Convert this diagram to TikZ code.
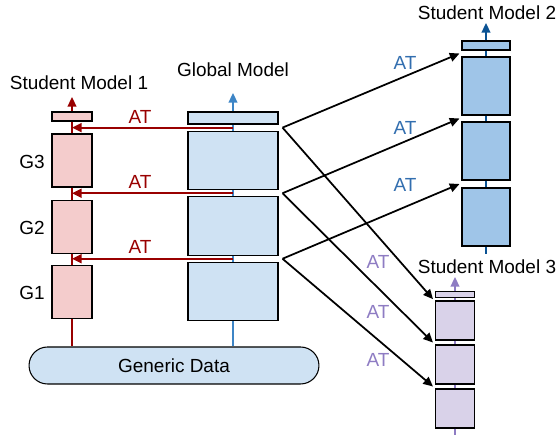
\documentclass[tikz,border=0pt]{standalone}
\usepackage{fontspec}
\setmainfont{Liberation Sans}
\usetikzlibrary{arrows.meta,calc}
\definecolor{sonefill}{RGB}{244,204,204}
\definecolor{sonered}{RGB}{153,0,0}
\definecolor{glbfill}{RGB}{207,226,243}
\definecolor{glbline}{RGB}{61,133,198}
\definecolor{stwofill}{RGB}{159,197,232}
\definecolor{stwoline}{RGB}{11,83,148}
\definecolor{stwotext}{RGB}{50,110,175}
\definecolor{sthreefill}{RGB}{217,210,233}
\definecolor{sthreeline}{RGB}{142,124,195}

\begin{document}
\begin{tikzpicture}[x=0.02cm,y=-0.02cm,
  font=\fontsize{10.8}{13}\selectfont,
  blk/.style={rectangle,draw=black,line width=0.6pt,inner sep=0pt},
  sonebox/.style={blk,fill=sonefill,minimum width=0.8cm,minimum height=1.06cm},
  sonehead/.style={blk,fill=sonefill,minimum width=0.8cm,minimum height=0.18cm},
  glbbox/.style={blk,fill=glbfill,minimum width=1.8cm,minimum height=1.17cm},
  glbhead/.style={blk,fill=glbfill,minimum width=1.8cm,minimum height=0.24cm},
  stwobox/.style={blk,fill=stwofill,minimum width=0.96cm,minimum height=1.16cm},
  stwohead/.style={blk,fill=stwofill,minimum width=0.96cm,minimum height=0.18cm},
  sthreebox/.style={blk,fill=sthreefill,minimum width=0.78cm,minimum height=0.78cm},
  sthreehead/.style={blk,fill=sthreefill,minimum width=0.78cm,minimum height=0.11cm},
  spine/.style={line width=1pt},
  tip/.style={-{Triangle[length=5.5pt,width=5pt]}},
  redat/.style={tip,line width=1.2pt,sonered},
  blackat/.style={tip,line width=1pt,black},
  atlabel/.style={inner sep=0pt}
]
\useasboundingbox (0,0) rectangle (559,435);

\node[blk,fill=glbfill,rounded corners=0.37cm,minimum width=5.8cm,minimum height=0.74cm] (data) at (174,365.5) {Generic Data};

\node[sonehead] (s1h) at (72,116.5) {};
\node[sonebox] (s1g3) at (72,160.5) {};
\node[sonebox] (s1g2) at (72,227) {};
\node[sonebox] (s1g1) at (72,292) {};
\node (s1title) at (79,83) {Student Model 1};
\node (g3lbl) at (32,162) {G3};
\node (g2lbl) at (32,228) {G2};
\node (g1lbl) at (32,293) {G1};
\coordinate (s1top) at (72,97);

\node[glbhead] (gh) at (233,118) {};
\node[glbbox] (gb3) at (233,160.5) {};
\node[glbbox] (gb2) at (233,226) {};
\node[glbbox] (gb1) at (233,291.5) {};
\node (gtitle) at (233,70) {Global Model};
\coordinate (gtop) at (233,93);

\node[stwohead] (s2h) at (486,45.5) {};
\node[stwobox] (s2b3) at (486,86) {};
\node[stwobox] (s2b2) at (486,151) {};
\node[stwobox] (s2b1) at (486,217) {};
\node (s2title) at (487,13) {Student Model 2};
\coordinate (s2top) at (486,23);
\coordinate (s2end) at (486,254);

\node[sthreehead] (s3h) at (455,294.5) {};
\node[sthreebox] (s3b3) at (455,320.5) {};
\node[sthreebox] (s3b2) at (455,364.5) {};
\node[sthreebox] (s3b1) at (455,408.5) {};
\node (s3title) at (487,267) {Student Model 3};
\coordinate (s3top) at (455,277);
\coordinate (s3end) at (455,435);

% spines
\draw[spine,sonered,tip] (s1h) -- (s1top);
\draw[spine,sonered] (s1h) -- (s1g3) (s1g3) -- (s1g2) (s1g2) -- (s1g1);
\draw[spine,sonered] (s1g1.south) -- (s1g1.south |- data.north);
\draw[spine,glbline,tip] (gh) -- (gtop);
\draw[spine,glbline] (gh) -- (gb3) (gb3) -- (gb2) (gb2) -- (gb1);
\draw[spine,glbline] (gb1.south) -- (gb1.south |- data.north);
\draw[spine,stwoline,tip] (s2h) -- (s2top);
\draw[spine,stwoline] (s2h) -- (s2b3) (s2b3) -- (s2b2) (s2b2) -- (s2b1) (s2b1) -- (s2end);
\draw[spine,sthreeline,tip] (s3h) -- (s3top);
\draw[spine,sthreeline] (s3h) -- (s3b3) (s3b3) -- (s3b2) (s3b2) -- (s3b1) (s3b1) -- (s3end);

% gaps
\coordinate (ga3) at ($(gh.south)!0.5!(gb3.north)$);
\coordinate (ga2) at ($(gb3.south)!0.5!(gb2.north)$);
\coordinate (ga1) at ($(gb2.south)!0.5!(gb1.north)$);
\coordinate (gs3) at ($(gh.south east)!0.5!(gb3.north east)+(4,0)$);
\coordinate (gs2) at ($(gb3.south east)!0.5!(gb2.north east)+(4,0)$);
\coordinate (gs1) at ($(gb2.south east)!0.5!(gb1.north east)+(4,0)$);
\coordinate (s2a3) at ($(s2h.south west)!0.5!(s2b3.north west)+(-2,0)$);
\coordinate (s2a2) at ($(s2b3.south west)!0.5!(s2b2.north west)+(-2,0)$);
\coordinate (s2a1) at ($(s2b2.south west)!0.5!(s2b1.north west)+(-2,0)$);
\coordinate (s3a3) at ($(s3h.south west)!0.5!(s3b3.north west)+(-2,0)$);
\coordinate (s3a2) at ($(s3b3.south west)!0.5!(s3b2.north west)+(-2,0)$);
\coordinate (s3a1) at ($(s3b2.south west)!0.5!(s3b1.north west)+(-2,0)$);

\draw[redat] (ga3) -- (ga3 -| s1h);
\draw[redat] (ga2) -- (ga2 -| s1h);
\draw[redat] (ga1) -- (ga1 -| s1h);
\node[atlabel,text=sonered] (at13) at (140,117) {AT};
\node[atlabel,text=sonered] (at12) at (140,182) {AT};
\node[atlabel,text=sonered] (at11) at (140,247) {AT};

\draw[blackat] (gs3) -- (s2a3);
\draw[blackat] (gs2) -- (s2a2);
\draw[blackat] (gs1) -- (s2a1);
\draw[blackat] (gs3) -- (s3a3);
\draw[blackat] (gs2) -- (s3a2);
\draw[blackat] (gs1) -- (s3a1);
\node[atlabel,text=stwotext] (at23) at (405,63) {AT};
\node[atlabel,text=stwotext] (at22) at (405,128) {AT};
\node[atlabel,text=stwotext] (at21) at (405,185) {AT};
\node[atlabel,text=sthreeline] (at33) at (378,262) {AT};
\node[atlabel,text=sthreeline] (at32) at (378,312) {AT};
\node[atlabel,text=sthreeline] (at31) at (378,360) {AT};
\end{tikzpicture}
\end{document}
